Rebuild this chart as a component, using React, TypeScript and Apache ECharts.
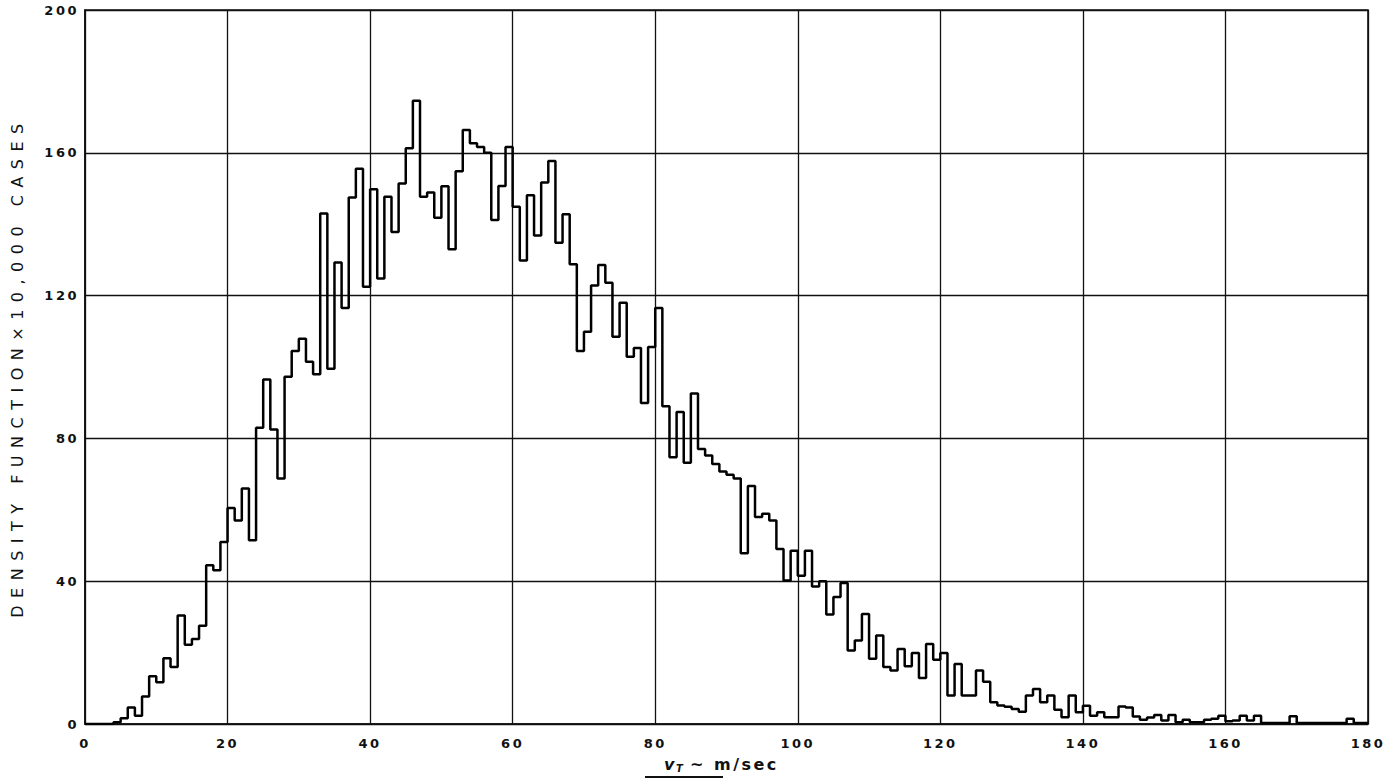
import React, { useEffect, useRef } from "react";
import * as echarts from "echarts";

// Histogram bins of width 1 m/sec, starting at 0 (bin k covers [k, k+1])
const binWidth = 1;
const density: number[] = [
  0, 0, 0, 0, 0.5, 1.6, 4.6, 2.3, 7.7, 13.4,
  11.7, 18.4, 16, 30.4, 22.2, 23.8, 27.5, 44.5, 43.1, 51,
  60.5, 57, 66, 51.5, 83, 96.5, 82.5, 68.8, 97.3, 104.5,
  107.9, 101.5, 98, 143, 99.5, 129.3, 116.5, 147.5, 155.5, 122.5,
  149.8, 124.8, 147.7, 137.8, 151.4, 161.3, 174.6, 147.7, 148.9, 141.8,
  150.6, 133, 154.8, 166.4, 162.7, 161.6, 160, 141.2, 150.7, 161.6,
  144.9, 129.8, 148.1, 136.8, 151.7, 157.7, 134.8, 142.8, 128.8, 104.5,
  109.9, 122.8, 128.6, 123.6, 108.5, 118, 102.9, 105.3, 89.9, 105.6,
  116.5, 89, 74.7, 87.4, 73.2, 92.6, 77, 75.2, 72.8, 70.7,
  69.8, 68.8, 47.8, 66.7, 58, 58.9, 57, 49, 40.2, 48.5,
  41.5, 48.5, 38.5, 40, 30.7, 35.6, 39.5, 20.6, 23.4, 30.8,
  18.3, 24.8, 16, 15, 21, 16.2, 19.9, 12.9, 22.4, 18,
  19.9, 8, 16.8, 8, 8, 15, 11.8, 6.1, 5.2, 4.8,
  4.2, 3.4, 8, 9.8, 6.1, 8, 4, 1.9, 8, 3.3,
  5.1, 2.3, 3.3, 1.9, 1.9, 4.9, 4.6, 2.1, 1.2, 1.8,
  2.5, 1.0, 2.5, 0.5, 1.2, 0.5, 0.5, 1.2, 1.5, 2.3,
  0.8, 1, 2.3, 1, 2.3, 0.3, 0.3, 0.3, 0.3, 2.2,
  0.3, 0.3, 0.3, 0.3, 0.3, 0.3, 0.3, 1.5, 0.3, 0.3,
];

const xTicks = { min: 0, max: 180, interval: 20 };
const yTicks = { min: 0, max: 200, interval: 40 };
const yTitle = "DENSITY FUNCTION×10,000 CASES";
const xTitleParts = ["v", "T", "~ m/sec"];

export default function App() {
  const ref = useRef<HTMLDivElement>(null);

  useEffect(() => {
    if (!ref.current) return;
    const chart = echarts.init(ref.current, undefined, { renderer: "svg" });

    const outline: number[][] = [];
    density.forEach((v, k) => {
      outline.push([k * binWidth, v]);
      outline.push([(k + 1) * binWidth, v]);
    });

    const font = "'DejaVu Sans', 'Noto Sans', sans-serif";
    const ink = "#111";

    chart.setOption({
      animation: false,
      backgroundColor: "#fff",
      grid: {
        left: 85,
        right: 19,
        top: 10,
        bottom: 56,
        show: true,
        borderColor: ink,
        borderWidth: 1.6,
        backgroundColor: "transparent",
      },
      xAxis: {
        type: "value",
        min: xTicks.min,
        max: xTicks.max,
        interval: xTicks.interval,
        axisLine: { show: true, lineStyle: { color: ink, width: 1.6 } },
        axisTick: { show: false },
        axisLabel: {
          color: ink,
          fontSize: 13,
          fontWeight: "bold",
          fontFamily: font,
          margin: 13,
        },
        splitLine: { show: true, lineStyle: { color: ink, width: 1.3 } },
      },
      yAxis: {
        type: "value",
        min: yTicks.min,
        max: yTicks.max,
        interval: yTicks.interval,
        name: yTitle,
        nameLocation: "middle",
        nameGap: 60,
        nameTextStyle: { color: ink, fontSize: 16, fontFamily: font },
        axisLine: { show: true, lineStyle: { color: ink, width: 1.6 } },
        axisTick: { show: false },
        axisLabel: {
          color: ink,
          fontSize: 13,
          fontWeight: "bold",
          fontFamily: font,
          margin: 6,
        },
        splitLine: { show: true, lineStyle: { color: ink, width: 1.3 } },
      },
      series: [
        {
          type: "line",
          data: outline,
          showSymbol: false,
          symbol: "none",
          lineStyle: { color: "#000", width: 2.5 },
          silent: true,
        },
      ],
      graphic: [
        {
          type: "text",
          left: 664,
          top: 756,
          style: {
            text: xTitleParts[0],
            font: "italic bold 16px 'DejaVu Sans', sans-serif",
            fill: ink,
          },
        },
        {
          type: "text",
          left: 676,
          top: 763,
          style: {
            text: xTitleParts[1],
            font: "italic bold 10px 'DejaVu Sans', sans-serif",
            fill: ink,
          },
        },
        {
          type: "text",
          left: 690,
          top: 756,
          style: {
            text: xTitleParts[2],
            font: "bold 16px 'DejaVu Sans', sans-serif",
            fill: ink,
          },
        },
        {
          type: "line",
          shape: { x1: 645, y1: 777, x2: 723, y2: 777 },
          style: { stroke: ink, lineWidth: 2 },
        },
      ],
    });

    const texts = ref.current.querySelectorAll("text");
    texts.forEach((t) => {
      const s = t.textContent || "";
      (t as any).style.letterSpacing = s.startsWith("DENSITY") ? "7.5px" : "2.5px";
    });

    return () => chart.dispose();
  }, []);

  return (
    <div
      ref={ref}
      style={{ position: "fixed", left: 0, top: 0, width: 1387, height: 780, background: "#fff" }}
    />
  );
}
